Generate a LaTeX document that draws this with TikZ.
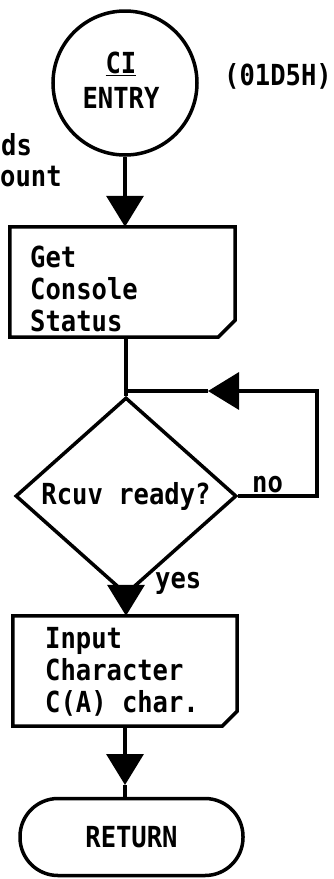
\documentclass[tikz,border=0pt]{standalone}
\usepackage{fontspec}
\newfontfamily\chartfont[FakeStretch=0.88]{DejaVu Sans Mono Bold}
\usetikzlibrary{arrows.meta,shapes.geometric,calc}
\newcommand{\chamferbox}[2]{%
  \draw[flow] (#1.north west) -- (#1.north east) -- ($(#1.south east)+(0,-#2)$)
    -- ($(#1.south east)+(-#2,0)$) -- (#1.south west) -- cycle;}
\begin{document}
\begin{tikzpicture}[x=1pt,y=-1pt,
  every node/.style={font=\chartfont\fontsize{29}{32}\selectfont, inner sep=0pt},
  flow/.style={line width=3.5pt},
  arr/.style={-{Triangle[width=37pt,length=31pt]}},
  lbl/.style={anchor=base west}]
\useasboundingbox (0,0) rectangle (333,879);

% entry circle
\node[draw, flow, circle, minimum size=144pt] (c) at (125,83) {};
\node[align=center, font=\chartfont\fontsize{29}{35}\selectfont] (ct) at ($(c.center)+(-4,-3)$) {\underline{CI}\\ENTRY};
\node[lbl] (addr) at (224,85) {(01D5H)};
\node[lbl] (frag1) at (1,155) {ds};
\node[lbl] (frag2) at (0,186) {ount};

% box 1
\node[minimum width=225pt, minimum height=110pt] (b1) at (122.5,282) {};
\chamferbox{b1}{17}
\node[anchor=north west, align=left] (t1) at (30,246) {Get\\Console\\Status};

% diamond
\node[draw, flow, diamond, minimum width=221pt, minimum height=144pt] (d) at (126,496) {Rcuv ready?};

% box 2
\node[minimum width=224pt, minimum height=110pt] (b2) at (125,671) {};
\chamferbox{b2}{15}
\node[anchor=north west, align=left] (t2) at (45,627) {Input\\Character\\C(A) char.};

% return
\node[draw, flow, rectangle, rounded corners=38pt, minimum width=223pt, minimum height=77pt] (r) at (131.5,837) {RETURN};

% connectors
\draw[flow, arr] (c.south) -- (c.south |- b1.north);
\draw[flow] (d.north |- b1.south) -- (d.north);
\coordinate (loopx) at (317,391);
\coordinate (ltip) at (208,391);
\draw[flow, arr] (d.east) -- (d.east -| loopx) -- (loopx) -- (ltip);
\draw[flow] (ltip) -- (ltip -| d.north);
\draw[flow, arr] (d.south) -- (d.south |- b2.north);
\coordinate (a4) at (125,785);
\draw[flow, arr] (b2.south -| a4) -- (a4);
\draw[flow] (a4) -- (a4 |- r.north);

% labels
\node[lbl] (no) at (252,492) {no};
\node[lbl] (yes) at (155,588) {yes};
\end{tikzpicture}
\end{document}
